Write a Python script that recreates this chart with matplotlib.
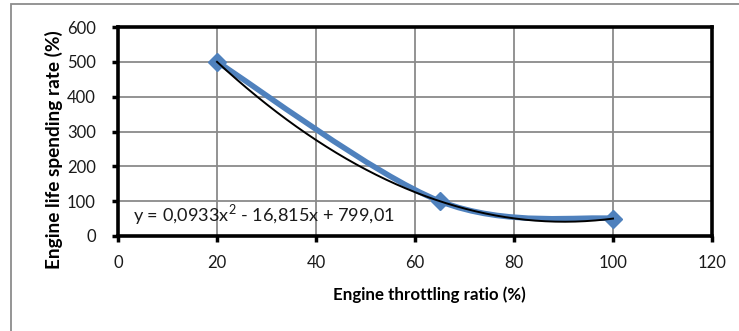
import numpy as np
import matplotlib
matplotlib.use("Agg")
import matplotlib.pyplot as plt
from matplotlib.path import Path
from matplotlib.patches import PathPatch, Rectangle

# Data
throttle = [20, 65, 100]
life_rate = [500, 100, 50]
x_ticks = [0, 20, 40, 60, 80, 100, 120]
y_ticks = [0, 100, 200, 300, 400, 500, 600]
eq_label = "y = 0,0933x$^{2}$ - 16,815x + 799,01"
x_label = "Engine throttling ratio (%)"
y_label = "Engine life spending rate (%)"

plt.rcParams['font.family'] = ['Lato', 'DejaVu Sans']
plt.rcParams['mathtext.fontset'] = 'custom'
plt.rcParams['mathtext.rm'] = 'Lato'

W, H = 739, 331
fig = plt.figure(figsize=(W / 100, H / 100), dpi=100)
ax = fig.add_axes([118 / W, 1 - 236 / H, (712 - 118) / W, (236 - 27) / H])

# outer chart border (left and top visible)
fig.patches.append(Rectangle((10.5 / W, -0.1), 1.2, (H - 3.5) / H + 0.1,
                             transform=fig.transFigure, fill=False,
                             edgecolor='#8c8c8c', linewidth=1.3))

ax.set_xlim(0, 120)
ax.set_ylim(0, 600)
ax.set_xticks(x_ticks)
ax.set_yticks(y_ticks)
ax.grid(True, color='#8a8a8a', linewidth=1.3)
ax.set_axisbelow(True)
for s in ax.spines.values():
    s.set_linewidth(2.6)
    s.set_color('black')
ax.tick_params(axis='both', direction='out', length=4, width=2.5, labelsize=12, colors='black')
ax.tick_params(axis='x', pad=10)
ax.tick_params(axis='y', pad=12)
for lbl in ax.get_xticklabels() + ax.get_yticklabels():
    lbl.set_color('#1a1a1a')

# Smoothed series (Catmull-Rom style Bezier, like Excel's smoothed line)
xs = np.array(throttle, dtype=float)
ys = np.array(life_rate, dtype=float)
pts = np.column_stack([xs, ys])
n = len(pts)
verts = [tuple(pts[0])]
codes = [Path.MOVETO]
for i in range(n - 1):
    p0 = pts[max(i - 1, 0)]
    p1 = pts[i]
    p2 = pts[i + 1]
    p3 = pts[min(i + 2, n - 1)]
    c1 = p1 + (p2 - p0) / 6.0
    c2 = p2 - (p3 - p1) / 6.0
    verts += [tuple(c1), tuple(c2), tuple(p2)]
    codes += [Path.CURVE4] * 3
ax.add_patch(PathPatch(Path(verts, codes), facecolor='none', edgecolor='#4F81BD',
                       linewidth=4, capstyle='round', joinstyle='round', zorder=3))
ax.plot(xs, ys, linestyle='none', marker='D', markersize=9, color='#4F81BD', zorder=4)

# Polynomial trendline
coef = np.polyfit(xs, ys, 2)
xt = np.linspace(xs.min(), xs.max(), 200)
ax.plot(xt, np.polyval(coef, xt), color='black', linewidth=1.4, zorder=5)

eq = ax.text(133 / W, 1 - 215 / H, eq_label, fontsize=13, color='#1a1a1a',
             va='center', ha='left', zorder=6, transform=fig.transFigure)

xl = fig.text(429 / W, 1 - 295 / H, x_label, fontsize=12.5, fontweight='bold',
              ha='center', va='center')
yl = fig.text(54 / W, 1 - 150 / H, y_label, fontsize=12.5, fontweight='bold',
              ha='center', va='center', rotation=90)

# fit text sizes to the reference pixel extents
r = fig.canvas.get_renderer()
for t, target, horiz in [(eq, 261, True), (xl, 193, True), (yl, 240, False)]:
    bb = t.get_window_extent(r)
    size = bb.width if horiz else bb.height
    t.set_fontsize(t.get_fontsize() * target / size)

fig.savefig("out.png", dpi=100)
